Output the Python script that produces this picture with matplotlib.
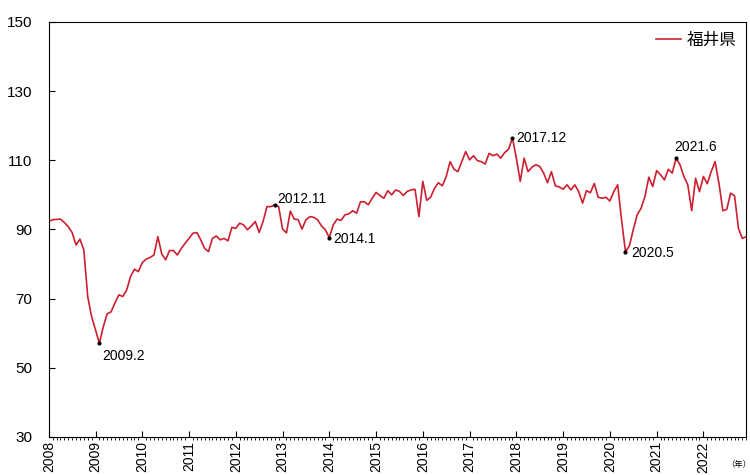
import numpy as np
import matplotlib.pyplot as plt
from matplotlib.ticker import MultipleLocator

plt.rcParams['font.family'] = ['Liberation Sans', 'Noto Sans CJK JP', 'DejaVu Sans']

# monthly index, Fukui prefecture, 2008.1 - 2022.12
fukui = [
    92.3, 92.8, 92.9, 93.0, 92.0, 90.8, 89.1, 85.5, 87.2, 84.1, 70.6, 64.8,
    60.9, 57.1, 61.9, 65.6, 66.2, 68.8, 71.1, 70.6, 72.5, 76.4, 78.5, 77.8,
    80.4, 81.4, 81.9, 82.6, 87.9, 82.9, 81.2, 83.9, 83.9, 82.6, 84.5, 86.0,
    87.4, 88.9, 89.1, 87.0, 84.5, 83.6, 87.4, 88.1, 87.0, 87.4, 86.7, 90.6,
    90.3, 91.8, 91.3, 89.9, 91.0, 92.3, 89.1, 92.3, 96.6, 96.6, 97.1, 96.6,
    90.1, 89.0, 95.3, 93.0, 92.8, 90.1, 92.8, 93.7, 93.5, 92.8, 91.0, 89.9,
    87.6, 91.3, 93.0, 92.6, 94.2, 94.5, 95.4, 94.7, 98.0, 98.0, 97.1, 99.0,
    100.7, 99.8, 99.0, 101.2, 100.0, 101.4, 101.0, 99.8, 101.0, 101.4, 101.6, 93.7,
    103.9, 98.4, 99.3, 101.9, 103.5, 102.6, 105.3, 109.6, 107.4, 106.7, 109.6, 112.5,
    110.1, 111.3, 109.9, 109.6, 108.9, 112.0, 111.3, 111.8, 110.6, 112.2, 113.2, 116.4,
    110.6, 103.9, 110.6, 106.7, 108.0, 108.7, 108.2, 106.3, 103.5, 106.7, 102.6, 102.3,
    101.6, 102.9, 101.4, 102.9, 100.9, 97.6, 101.2, 100.6, 103.3, 99.3, 99.0, 99.3,
    98.2, 100.9, 102.9, 92.8, 83.6, 85.2, 89.9, 94.2, 96.1, 99.5, 105.1, 102.4,
    107.0, 105.8, 104.3, 107.4, 106.3, 110.6, 108.7, 105.3, 102.9, 95.4, 104.8, 100.9,
    105.3, 103.2, 106.7, 109.6, 103.3, 95.4, 95.8, 100.5, 99.7, 90.3, 87.4, 87.9,
]
years = list(range(2008, 2023))
peaks = ['2009.2', '2012.11', '2014.1', '2017.12', '2020.5', '2021.6']

months = np.arange(len(fukui))

fig = plt.figure(figsize=(7.5, 4.75), dpi=100)
ax = fig.add_axes([0.065, 0.08, 0.93, 0.874])

ax.plot(months, fukui, color='#cc1f2f', lw=1.2, label='福井県')

# turning points
offsets = {'2009.2': (2, -9), '2012.11': (2, 4), '2014.1': (3, -1),
           '2017.12': (3, 0), '2020.5': (4, -1), '2021.6': (-1, 8)}
for p in peaks:
    y, m = p.split('.')
    i = (int(y) - 2008) * 12 + int(m) - 1
    ax.plot(i, fukui[i], 'o', color='black', ms=2)
    ax.annotate(p, (i, fukui[i]), xytext=offsets[p], textcoords='offset points',
                fontsize=10, ha='left', va='center')

ax.set_xlim(0, len(fukui) - 1)
ax.set_ylim(30, 150)
ax.set_yticks(range(30, 151, 20))
ax.set_xticks([(y - 2008) * 12 for y in years])
ax.set_xticklabels([str(y) for y in years], rotation=90)
ax.xaxis.set_minor_locator(MultipleLocator(1))
ax.tick_params(axis='both', direction='in')
ax.tick_params(axis='x', which='major', length=4, pad=3, labelsize=10)
ax.tick_params(axis='x', which='minor', length=2)
ax.tick_params(axis='y', length=4, pad=12, labelsize=11)

leg = ax.legend(loc='upper right', frameon=False, fontsize=12, handlelength=1.5,
                handletextpad=0.3, borderaxespad=0.2)
for t in leg.get_texts():
    t.set_family(['Noto Sans CJK JP'])
fig.text(0.985, 0.022, '（年）', fontsize=6, ha='center', va='center',
         family=['Noto Sans CJK JP'])

fig.savefig('out.png')
